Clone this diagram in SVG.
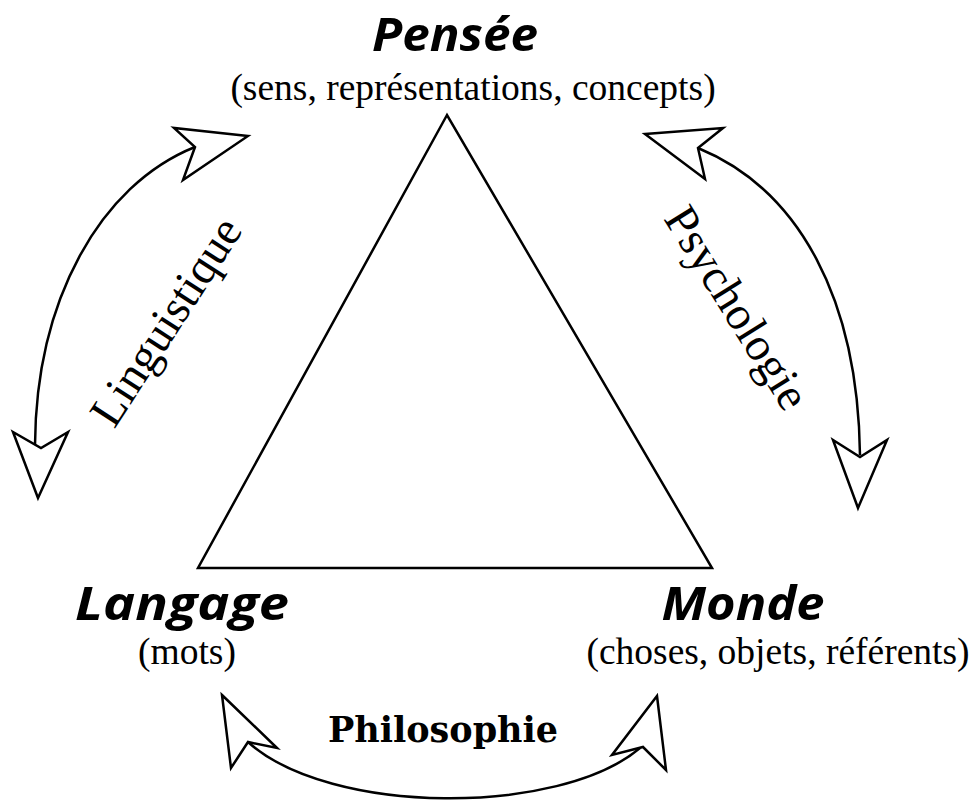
<svg xmlns="http://www.w3.org/2000/svg" width="977" height="801" viewBox="0 0 977 801">
<style>
.title{font-family:"Open Sans","Noto Sans",sans-serif;font-weight:700;font-style:italic;font-size:47px;fill:#000;text-anchor:middle}
.sub{font-family:"Liberation Serif","Times New Roman",serif;font-size:37.5px;fill:#000;text-anchor:middle}
.lab{font-family:"Liberation Serif","Times New Roman",serif;font-size:47px;fill:#000;text-anchor:middle}
.phil{font-family:"DejaVu Serif",serif;font-weight:700;font-size:35px;fill:#000;text-anchor:middle}
.line{fill:none;stroke:#000;stroke-width:2.5}
.head{fill:#fff;stroke:#000;stroke-width:2.5;stroke-linejoin:miter}
</style>
<rect width="977" height="801" fill="#fff"/>
<g id="triangle">
<polygon points="447,115 198,568 712,568" fill="#fff" stroke="#000" stroke-width="2.5"/>
</g>
<g id="pensee">
<text class="title" x="455" y="51" textLength="166" lengthAdjust="spacingAndGlyphs">Pensée</text>
<text class="sub" x="473" y="100">(sens, représentations, concepts)</text>
</g>
<g id="langage">
<text class="title" x="182" y="620" textLength="214" lengthAdjust="spacingAndGlyphs">Langage</text>
<text class="sub" x="187" y="664">(mots)</text>
</g>
<g id="monde">
<text class="title" x="743" y="620" textLength="163" lengthAdjust="spacingAndGlyphs">Monde</text>
<text class="sub" x="778" y="664">(choses, objets, référents)</text>
</g>
<g id="connectors">
<g id="linguistique">
<path class="line" d="M195,147 C100,185 36,300 35,445"/>
<polygon class="head" points="248,136 174,128 195,147 183,180"/>
<polygon class="head" points="38,498 13,432 41,448 68,432"/>
<text class="lab" transform="translate(179,330) rotate(-57)">Linguistique</text>
</g>
<g id="psychologie">
<path class="line" d="M698,148 C800,190 858,300 860,455"/>
<polygon class="head" points="645,134 723,128 698,148 705,179"/>
<polygon class="head" points="858,508 833,440 860,457 887,440"/>
<text class="lab" transform="translate(724,316) rotate(58)">Psychologie</text>
</g>
<g id="philosophie">
<path class="line" d="M248,742 C330,816 560,816 640,748"/>
<polygon class="head" points="222,695 277,748 248,742 231,768"/>
<polygon class="head" points="657,696 666,770 643,747 612,755"/>
<text class="phil" x="443" y="742">Philosophie</text>
</g>
</g>
</svg>
